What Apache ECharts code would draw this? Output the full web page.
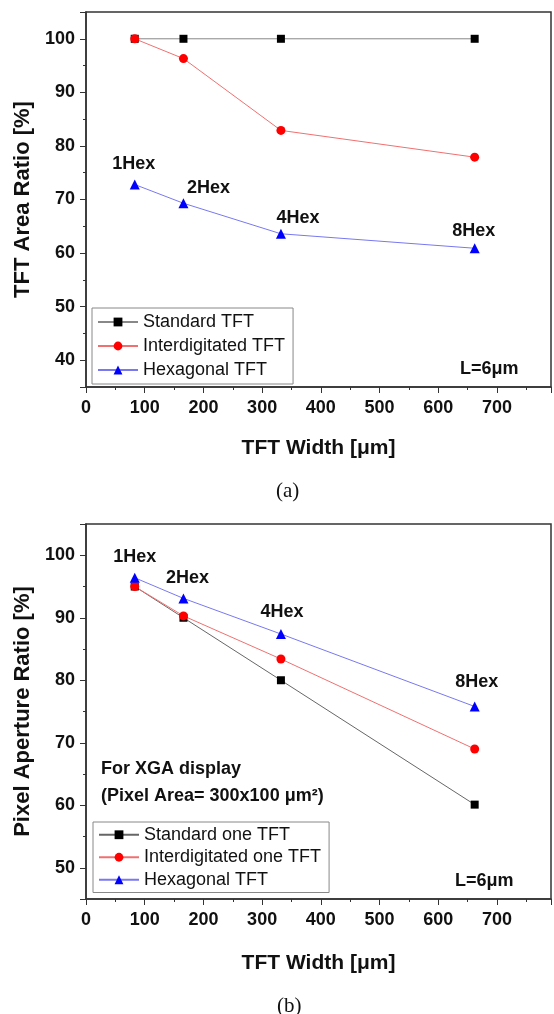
<!DOCTYPE html>
<html>
<head>
<meta charset="UTF-8">
<title>TFT area ratio / pixel aperture ratio</title>
<script src="https://cdn.jsdelivr.net/npm/echarts@6/dist/echarts.min.js"></script>
<style>
  html, body { margin: 0; padding: 0; background: #fff; }
  #container { width: 554px; height: 1014px; }
</style>
</head>
<body>
<div id="container"></div>
<script>
// --- data ---
var widths = [83, 166, 332, 662];          // TFT width [um]
var hexNames = ['1Hex', '2Hex', '4Hex', '8Hex'];

// (a) TFT area ratio [%]
var areaStandard = [100, 100, 100, 100];
var areaInterdig = [100, 96.3, 82.9, 77.9];
var areaHexagonal = [72.8, 69.3, 63.6, 60.9];

// (b) pixel aperture ratio [%]
var apStandard = [95, 90, 80, 60.1];
var apInterdig = [95, 90.3, 83.4, 69];
var apHexagonal = [96.4, 93.1, 87.4, 75.8];

var xTicks = [0, 100, 200, 300, 400, 500, 600, 700];

// label offsets (px) for the nHex tags
var hexOffsetA = [[-1, -20], [25, -15], [17, -16], [-1, -17]];
var hexOffsetB = [[0, -21], [4, -20], [1, -22], [2, -24]];

var FONT = '"Liberation Sans", Arial, sans-serif';

function pairs(ys) {
  return widths.map(function (x, i) { return [x, ys[i]]; });
}

function hexData(ys, offs) {
  return widths.map(function (x, i) {
    return {
      value: [x, ys[i]],
      label: { show: true, formatter: hexNames[i], position: 'inside', offset: offs[i] }
    };
  });
}

function xAxisOf(gi, gap) {
  return {
    type: 'value', gridIndex: gi, min: 0, max: 792, interval: 100,
    name: 'TFT Width [\u03bcm]', nameLocation: 'middle', nameGap: gap,
    nameTextStyle: { fontFamily: FONT, fontWeight: 'bold', fontSize: 21, color: '#111' },
    axisLine: { onZero: false, lineStyle: { color: '#333', width: 1.5 } },
    axisTick: { inside: false, length: 6, lineStyle: { color: '#333' } },
    minorTick: { show: true, splitNumber: 2, length: 3, lineStyle: { color: '#333' } },
    splitLine: { show: false },
    axisLabel: {
      fontFamily: FONT, fontWeight: 'bold', fontSize: 18, color: '#111', margin: 12,
      formatter: function (v) { return xTicks.indexOf(v) >= 0 ? String(v) : ''; }
    }
  };
}

function yAxisOf(gi, lo, name) {
  return {
    type: 'value', gridIndex: gi, min: lo, max: 105,
    name: name, nameLocation: 'middle', nameGap: 50,
    nameTextStyle: { fontFamily: FONT, fontWeight: 'bold', fontSize: 22, color: '#111' },
    axisLine: { onZero: false, lineStyle: { color: '#333', width: 1.5 } },
    axisTick: { inside: false, length: 6, lineStyle: { color: '#333' } },
    minorTick: { show: true, splitNumber: 2, length: 3, lineStyle: { color: '#333' } },
    splitLine: { show: false },
    axisLabel: {
      fontFamily: FONT, fontWeight: 'bold', fontSize: 18, color: '#111', margin: 11,
      formatter: function (v) { return v % 10 === 0 ? String(v) : ''; }
    }
  };
}

function lineSeries(name, gi, data, sym, size, dotColor, lineColor) {
  return {
    name: name, type: 'line', xAxisIndex: gi, yAxisIndex: gi,
    data: data, symbol: sym, symbolSize: size,
    itemStyle: { color: dotColor },
    lineStyle: { color: lineColor, width: 1 },
    label: { fontFamily: FONT, fontWeight: 'bold', fontSize: 18, color: '#111' },
    animation: false
  };
}

var option = {
  animation: false,
  grid: [
    { left: 86, top: 12, right: 3, height: 375, show: true, borderColor: '#333', borderWidth: 1.5 },
    { left: 86, top: 524, right: 3, height: 375, show: true, borderColor: '#333', borderWidth: 1.5 }
  ],
  xAxis: [xAxisOf(0, 51), xAxisOf(1, 54)],
  yAxis: [yAxisOf(0, 35, 'TFT Area Ratio [%]'), yAxisOf(1, 45, 'Pixel Aperture Ratio [%]')],
  legend: [
    {
      data: ['Standard TFT', 'Interdigitated TFT', 'Hexagonal TFT'],
      orient: 'vertical', left: 92, top: 308, itemWidth: 40, itemHeight: 11, itemGap: 2,
      padding: [3, 8, 3, 5], borderColor: '#888', borderWidth: 1,
      textStyle: { fontFamily: FONT, fontSize: 18, color: '#111', lineHeight: 22 }, selectedMode: false
    },
    {
      data: ['Standard one TFT', 'Interdigitated one TFT', 'Hexagonal TFT'],
      orient: 'vertical', left: 93, top: 822, itemWidth: 40, itemHeight: 11, itemGap: 1,
      padding: [2, 8, 2, 5], borderColor: '#888', borderWidth: 1,
      textStyle: { fontFamily: FONT, fontSize: 18, color: '#111', lineHeight: 21.5 }, selectedMode: false
    }
  ],
  series: [
    lineSeries('Standard TFT', 0, pairs(areaStandard), 'rect', 8, '#000', '#888'),
    lineSeries('Interdigitated TFT', 0, pairs(areaInterdig), 'circle', 9, '#ff0000', '#f07070'),
    lineSeries('Hexagonal TFT', 0, hexData(areaHexagonal, hexOffsetA), 'triangle', 10, '#0000ff', '#7878f0'),
    lineSeries('Standard one TFT', 1, pairs(apStandard), 'rect', 8, '#000', '#666'),
    lineSeries('Interdigitated one TFT', 1, pairs(apInterdig), 'circle', 9, '#ff0000', '#f07070'),
    lineSeries('Hexagonal TFT', 1, hexData(apHexagonal, hexOffsetB), 'triangle', 10, '#0000ff', '#7878f0')
  ],
  graphic: [
    { type: 'text', left: 460, top: 360, style: { text: 'L=6\u03bcm', font: 'bold 18px ' + FONT, fill: '#111' } },
    { type: 'text', left: 455, top: 872, style: { text: 'L=6\u03bcm', font: 'bold 18px ' + FONT, fill: '#111' } },
    { type: 'text', left: 101, top: 760, style: { text: 'For XGA display', font: 'bold 18px ' + FONT, fill: '#111' } },
    { type: 'text', left: 101, top: 787, style: { text: '(Pixel Area= 300x100 \u03bcm\u00b2)', font: 'bold 18px ' + FONT, fill: '#111' } },
    { type: 'text', left: 276, top: 481, style: { text: '(a)', font: '21px "Liberation Serif", "Times New Roman", serif', fill: '#111' } },
    { type: 'text', left: 277, top: 996, style: { text: '(b)', font: '21px "Liberation Serif", "Times New Roman", serif', fill: '#111' } }
  ]
};

var myChart = echarts.init(document.getElementById('container'), null, { renderer: 'canvas' });
myChart.setOption(option, true);
</script>
</body>
</html>
